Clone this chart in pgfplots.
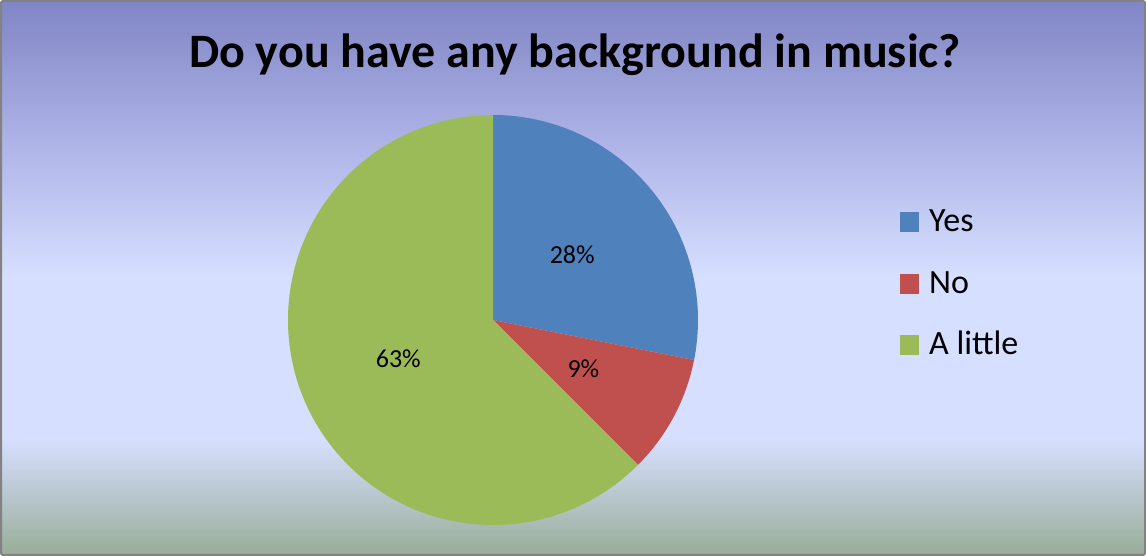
\documentclass[border=0pt]{standalone}
\usepackage{pgfplots}
\pgfplotsset{compat=1.18}
\usepackage{pgfplotstable}
\usetikzlibrary{calc}
\usepackage{fontspec}
\setmainfont{Carlito}

\definecolor{pieblue}{RGB}{79,129,189}
\definecolor{piered}{RGB}{192,80,77}
\definecolor{piegreen}{RGB}{155,187,89}
\definecolor{bgtop}{RGB}{128,133,197}
\definecolor{bgmid}{RGB}{176,182,232}
\definecolor{bglight}{RGB}{214,223,255}
\definecolor{bgbot}{RGB}{152,173,152}
\definecolor{framegray}{RGB}{130,130,130}

% y from top p -> bp = 75 - 50*p/556
\pgfdeclareverticalshading{chartbg}{100bp}{%
  color(0bp)=(bgbot); color(25bp)=(bgbot);
  color(35.4bp)=(bglight); color(50.1bp)=(bglight);
  color(61.5bp)=(bgmid);
  color(75bp)=(bgtop); color(100bp)=(bgtop)}

\pgfplotstableread[col sep=comma,row sep=\\]{
label,value\\
Yes,9\\
No,3\\
A little,20\\
}\piedata

\pgfplotstablegetelem{0}{value}\of\piedata \let\vA\pgfplotsretval
\pgfplotstablegetelem{1}{value}\of\piedata \let\vB\pgfplotsretval
\pgfplotstablegetelem{2}{value}\of\piedata \let\vC\pgfplotsretval
\pgfplotstablegetelem{0}{label}\of\piedata \let\lA\pgfplotsretval
\pgfplotstablegetelem{1}{label}\of\piedata \let\lB\pgfplotsretval
\pgfplotstablegetelem{2}{label}\of\piedata \let\lC\pgfplotsretval

\pgfmathsetmacro\total{\vA+\vB+\vC}
\pgfmathsetmacro\aA{90}
\pgfmathsetmacro\aB{\aA-360*\vA/\total}
\pgfmathsetmacro\aC{\aB-360*\vB/\total}
\pgfmathsetmacro\aD{\aC-360*\vC/\total}
\pgfmathsetmacro\mA{(\aA+\aB)/2}
\pgfmathsetmacro\mB{(\aB+\aC)/2}
\pgfmathsetmacro\mC{(\aC+\aD)/2}
\pgfmathtruncatemacro\pA{round(100*\vA/\total)}
\pgfmathtruncatemacro\pB{round(100*\vB/\total)}
\pgfmathtruncatemacro\pC{round(100*\vC/\total)}

\def\cx{493}
\def\cy{236}
\def\R{205}

\begin{document}
\begin{tikzpicture}
\begin{axis}[
  x=1pt, y=1pt,
  xmin=0, xmax=1146, ymin=0, ymax=556,
  hide axis, clip=false,
]
% background
\shade[shading=chartbg, draw=framegray, line width=2pt, rounded corners=2pt]
  (axis cs:1,1) rectangle (axis cs:1145,555);

% title
\node[anchor=base, inner sep=0pt, font=\bfseries\fontsize{48}{56}\selectfont]
  at (axis cs:575,488) {Do you have any background in music?};

% pie wedges
\fill[pieblue] (axis cs:\cx,\cy) -- ++(\aA:\R pt)
  arc[start angle=\aA, end angle=\aB, radius=\R pt] -- cycle;
\fill[piered] (axis cs:\cx,\cy) -- ++(\aB:\R pt)
  arc[start angle=\aB, end angle=\aC, radius=\R pt] -- cycle;
\fill[piegreen] (axis cs:\cx,\cy) -- ++(\aC:\R pt)
  arc[start angle=\aC, end angle=\aD, radius=\R pt] -- cycle;

% percentage labels
\node[inner sep=0pt, font=\fontsize{26}{30}\selectfont]
  at ($(axis cs:\cx,\cy)+(\mA:102.5pt)$) {\pA\%};
\node[inner sep=0pt, font=\fontsize{26}{30}\selectfont]
  at ($(axis cs:\cx,\cy)+(\mB:102.5pt)$) {\pB\%};
\node[inner sep=0pt, font=\fontsize{26}{30}\selectfont]
  at ($(axis cs:\cx,\cy)+(\mC:102.5pt)$) {\pC\%};

% legend
\fill[pieblue] (axis cs:900,324) rectangle (axis cs:919,343.5);
\node[anchor=base west, inner sep=0pt, font=\fontsize{34}{40}\selectfont]
  at (axis cs:929,324) {\lA};
\fill[piered] (axis cs:900,262) rectangle (axis cs:919,281.5);
\node[anchor=base west, inner sep=0pt, font=\fontsize{34}{40}\selectfont]
  at (axis cs:929,262) {\lB};
\fill[piegreen] (axis cs:900,201) rectangle (axis cs:919,220.5);
\node[anchor=base west, inner sep=0pt, font=\fontsize{34}{40}\selectfont]
  at (axis cs:929,201) {\lC};
\end{axis}
\end{tikzpicture}
\end{document}
